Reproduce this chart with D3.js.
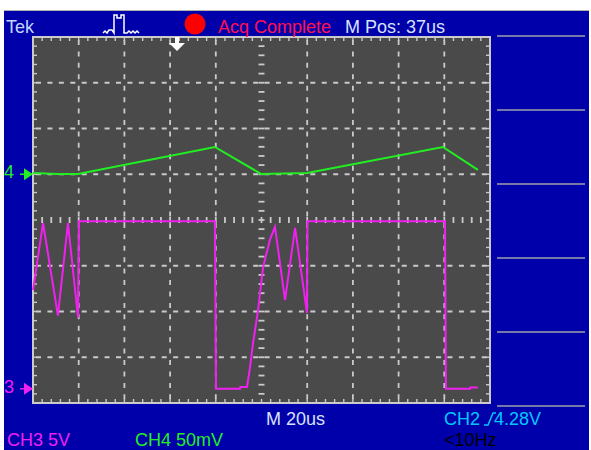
<!DOCTYPE html>
<head>
  <meta charset="utf-8">
  <script src="https://d3js.org/d3.v7.min.js"></script>
  <style>
    body { margin:0; background:#fff; }
    text { font-family: "Liberation Sans", Arial, sans-serif; font-size:18px; }
  </style>
</head>
<body>
<script>
  // CH3 trace: time (us from left edge), volts
  var ch3Time  = [0, 4.4, 10.9, 15.3, 19.7, 20.1, 79.6, 80.1, 90.6, 90.7, 93.7, 95.0, 96.3, 98.5, 100.7, 103.7, 105.9, 110.3, 114.7, 119.9, 120.1, 180.3, 180.7, 191.3, 191.4, 194.7];
  var ch3Volts = [10.8, 18.1, 8.0, 18.1, 7.8, 18.3, 18.3, 0, 0, 0.2, 0.2, 2.4, 5.0, 8.6, 13.3, 16.3, 17.7, 9.7, 17.6, 8.3, 18.3, 18.3, 0, 0, 0.15, 0.15];
  // CH4 trace: time (us), millivolts
  var ch4Time = [0, 10.5, 19.7, 79.6, 99.8, 120, 179.4, 194.7];
  var ch4mV   = [1.4, 0.3, 0.3, 29.8, 0.3, 1.4, 29.8, 4.7];

  var ch3Scale = 5, ch4Scale = 50;      // per division
  var ch3Offset = -3.69, ch4Offset = 1.0; // divisions from centre
  var timeDiv = 20;

  var W = 591, H = 450;
  var svg = d3.select("body").append("svg").attr("width", W).attr("height", H);

  // blue screen
  svg.append("rect").attr("x", 4).attr("y", 11).attr("width", 585).attr("height", 439).attr("fill", "#0000aa");
  svg.append("line").attr("x1", 4).attr("x2", 589).attr("y1", 10.5).attr("y2", 10.5).attr("stroke", "#b0b0b0");

  var x = d3.scaleLinear().domain([0, 10 * timeDiv]).range([33, 490]);
  var y = d3.scaleLinear().domain([-4, 4]).range([403, 37]);

  // graticule
  svg.append("rect").attr("x", x(0)).attr("y", y(4)).attr("width", x(200) - x(0)).attr("height", y(-4) - y(4))
    .attr("fill", "#4a4a4a");

  var g = svg.append("g").attr("stroke", "#cacaca");
  var divX = d3.range(1, 10).filter(function(d) { return d != 5; });
  var divY = d3.range(-3, 4).filter(function(d) { return d != 0; });
  g.selectAll(".vx").data(divX).enter().append("line")
    .attr("x1", function(d) { return x(d * timeDiv); }).attr("x2", function(d) { return x(d * timeDiv); })
    .attr("y1", y(4)).attr("y2", y(-4))
    .attr("stroke-width", 1.8).attr("stroke-dasharray", "5,6.43").attr("stroke-dashoffset", -3);
  g.selectAll(".hy").data(divY).enter().append("line")
    .attr("y1", function(d) { return y(d); }).attr("y2", function(d) { return y(d); })
    .attr("x1", x(0)).attr("x2", x(200))
    .attr("stroke-width", 1.8).attr("stroke-dasharray", "5,6.43").attr("stroke-dashoffset", -3);

  // minor ticks on centre axes and border
  var minorX = d3.range(1, 50).map(function(i) { return i * timeDiv / 5; });
  var minorY = d3.range(-19, 20).map(function(i) { return i / 5; });
  g.selectAll(".cx").data(minorX).enter().append("line")
    .attr("x1", function(d) { return x(d); }).attr("x2", function(d) { return x(d); })
    .attr("y1", y(0) - 3).attr("y2", y(0) + 3).attr("stroke-width", 1.8);
  g.selectAll(".cy").data(minorY).enter().append("line")
    .attr("y1", function(d) { return y(d); }).attr("y2", function(d) { return y(d); })
    .attr("x1", x(100) - 3).attr("x2", x(100) + 3).attr("stroke-width", 1.8);
  g.selectAll(".tx").data(minorX).enter().append("line")
    .attr("x1", function(d) { return x(d); }).attr("x2", function(d) { return x(d); })
    .attr("y1", y(4)).attr("y2", y(4) + 4).attr("stroke-width", 1.4);
  g.selectAll(".bx").data(minorX).enter().append("line")
    .attr("x1", function(d) { return x(d); }).attr("x2", function(d) { return x(d); })
    .attr("y1", y(-4)).attr("y2", y(-4) - 4).attr("stroke-width", 1.4);
  g.selectAll(".ly").data(minorY).enter().append("line")
    .attr("y1", function(d) { return y(d); }).attr("y2", function(d) { return y(d); })
    .attr("x1", x(0)).attr("x2", x(0) + 4).attr("stroke-width", 1.4);
  g.selectAll(".ry").data(minorY).enter().append("line")
    .attr("y1", function(d) { return y(d); }).attr("y2", function(d) { return y(d); })
    .attr("x1", x(200)).attr("x2", x(200) - 4).attr("stroke-width", 1.4);
  g.append("rect").attr("x", x(0)).attr("y", y(4)).attr("width", x(200) - x(0)).attr("height", y(-4) - y(4))
    .attr("fill", "none").attr("stroke-width", 2);

  // traces
  var line = d3.line();
  svg.append("path")
    .attr("d", line(ch4Time.map(function(t, i) { return [x(t), y(ch4mV[i] / ch4Scale + ch4Offset)]; })))
    .attr("fill", "none").attr("stroke", "#22ee22").attr("stroke-width", 2);
  svg.append("path")
    .attr("d", line(ch3Time.map(function(t, i) { return [x(t), y(ch3Volts[i] / ch3Scale + ch3Offset)]; })))
    .attr("fill", "none").attr("stroke", "#f020f0").attr("stroke-width", 2);

  // channel ground markers
  var markers = [{label: "4", off: ch4Offset, color: "#22ee22"}, {label: "3", off: ch3Offset, color: "#f020f0"}];
  markers.forEach(function(m) {
    var yy = y(m.off);
    svg.append("text").attr("x", 4).attr("y", yy + 4).attr("fill", m.color).text(m.label);
    svg.append("line").attr("x1", 20).attr("x2", 32).attr("y1", yy).attr("y2", yy).attr("stroke", m.color).attr("stroke-width", 1.5);
    svg.append("path").attr("d", "M24," + (yy - 6) + "L33," + yy + "L24," + (yy + 6) + "Z").attr("fill", m.color);
  });

  // trigger position marker
  svg.append("path").attr("d", "M175,37H179V43H185L177,51L169,43H175Z").attr("fill", "#ffffff");

  // right-hand menu separators
  var menuY = [36, 110, 184, 258, 332, 406];
  svg.selectAll(".menu").data(menuY).enter().append("line")
    .attr("x1", 497).attr("x2", 585).attr("y1", function(d) { return d; }).attr("y2", function(d) { return d; })
    .attr("stroke", "#7878a8").attr("stroke-width", 2);

  // top bar
  svg.append("text").attr("x", 6).attr("y", 33).attr("fill", "#c0d4ff").text("Tek");
  svg.append("path").attr("d", "M103,33l2,-2l2,2l2,-3l3,0l2,3V15h3v3h4v-3h3V33h3l2,-2l2,2l2,-2l2,2l2,-2l2,2")
    .attr("fill", "none").attr("stroke", "#ffffff").attr("stroke-width", 1.5);
  svg.append("circle").attr("cx", 195).attr("cy", 24).attr("r", 10.5).attr("fill", "#ff0000");
  svg.append("text").attr("x", 218).attr("y", 33).attr("fill", "#ff1050").text("Acq Complete");
  svg.append("text").attr("x", 345).attr("y", 33).attr("fill", "#d8e2ff").text("M Pos: 37us");

  // bottom bar
  svg.append("text").attr("x", 266).attr("y", 425).attr("fill", "#d8e2ff").text("M 20us");
  svg.append("text").attr("x", 444).attr("y", 425).attr("fill", "#00c8ff").text("CH2");
  svg.append("path").attr("d", "M484,425h4l5,-12h3").attr("fill", "none").attr("stroke", "#00c8ff").attr("stroke-width", 1.5);
  svg.append("text").attr("x", 494).attr("y", 425).attr("fill", "#00c8ff").text("4.28V");
  svg.append("text").attr("x", 7).attr("y", 446).attr("fill", "#f020f0").text("CH3  5V");
  svg.append("text").attr("x", 135).attr("y", 446).attr("fill", "#22ee22").text("CH4  50mV");
  svg.append("text").attr("x", 444).attr("y", 446).attr("fill", "#000000").text("<10Hz");
</script>
</body>
